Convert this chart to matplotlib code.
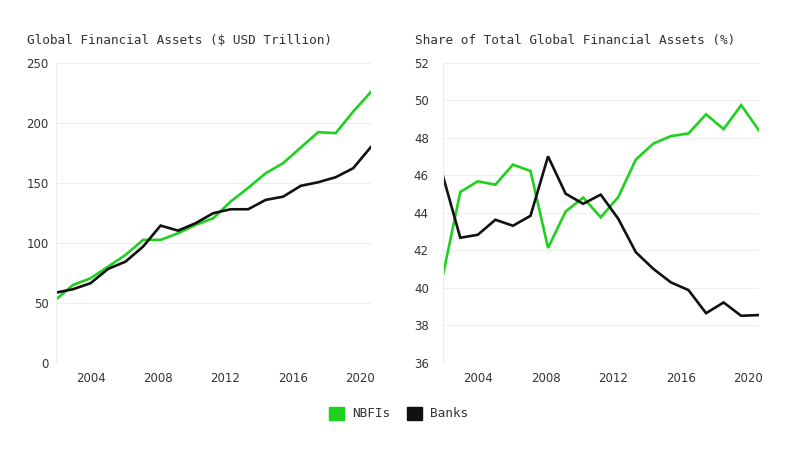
import matplotlib.pyplot as plt
import numpy as np

# data
years = np.arange(2002, 2021)
nbfi_assets = [52.3, 64.8, 70.3, 80.0, 89.8, 102.3, 102.3, 107.8, 114.8, 120.3,
               134.2, 145.6, 157.8, 166.2, 179.2, 192.0, 191.2, 209.2, 225.3]
bank_assets = [58.3, 61.2, 66.2, 78.1, 84.2, 96.7, 114.2, 110.0, 116.2, 124.5,
               127.8, 127.8, 135.6, 138.3, 147.3, 150.3, 154.5, 162.0, 179.5]
nbfi_share = [40.6, 45.1, 45.67, 45.49, 46.56, 46.22, 42.12, 44.06, 44.8, 43.75,
              44.83, 46.83, 47.68, 48.08, 48.22, 49.24, 48.45, 49.73, 48.4]
bank_share = [46.0, 42.66, 42.82, 43.62, 43.3, 43.83, 47.0, 45.01, 44.47, 44.96,
              43.67, 41.89, 41.0, 40.28, 39.87, 38.64, 39.21, 38.5, 38.54]
tick_years = [2004, 2008, 2012, 2016, 2020]

GREEN = '#1fd11f'
BLACK = '#111111'
MONO = 'DejaVu Sans Mono'
SANS = 'DejaVu Sans'


def style_axis(ax, ylim, yticks, ypad):
    ax.set_xlim(years[0], years[-1])
    ax.set_ylim(*ylim)
    ax.set_yticks(yticks)
    # the original time scale puts the labels slightly off the data years
    ax.set_xticks([2002.08 + (t - 2002) * 0.962 for t in tick_years])
    ax.set_xticklabels([str(t) for t in tick_years])
    ax.grid(axis='y', color='#eeeeee', linewidth=0.8)
    ax.set_axisbelow(True)
    for side in ['top', 'right', 'bottom']:
        ax.spines[side].set_visible(False)
    ax.spines['left'].set_color('#eeeeee')
    ax.tick_params(axis='both', length=0, labelsize=8.5, labelcolor='#333333')
    ax.tick_params(axis='x', pad=7)
    ax.tick_params(axis='y', pad=ypad)
    for lab in ax.get_xticklabels() + ax.get_yticklabels():
        lab.set_family(SANS)


fig = plt.figure(figsize=(8, 4.5), dpi=100)
ax1 = fig.add_axes([0.0694, 0.194, 0.394, 0.667])
ax2 = fig.add_axes([0.5534, 0.194, 0.395, 0.667])

ax1.plot(years, nbfi_assets, color=GREEN, linewidth=1.9, solid_joinstyle='miter')
ax1.plot(years, bank_assets, color=BLACK, linewidth=1.9, solid_joinstyle='miter')
style_axis(ax1, (0, 250), np.arange(0, 251, 50), 5)

ax2.plot(years, nbfi_share, color=GREEN, linewidth=1.9, solid_joinstyle='miter')
ax2.plot(years, bank_share, color=BLACK, linewidth=1.9, solid_joinstyle='miter')
style_axis(ax2, (36, 52), np.arange(36, 53, 2), 10)

fig.text(0.034, 0.911, 'Global Financial Assets ($ USD Trillion)', family=MONO,
         fontsize=9.2, color='#333333', va='center')
fig.text(0.519, 0.911, 'Share of Total Global Financial Assets (%)', family=MONO,
         fontsize=9.2, color='#333333', va='center')

handles = [plt.Rectangle((0, 0), 1, 1, color=GREEN), plt.Rectangle((0, 0), 1, 1, color=BLACK)]
fig.legend(handles, ['NBFIs', 'Banks'], loc='center', bbox_to_anchor=(0.498, 0.081),
           ncol=2, frameon=False, prop={'family': MONO, 'size': 9.2},
           handlelength=1.2, handleheight=1.2, handletextpad=0.6, columnspacing=1.3,
           labelcolor='#333333')

fig.savefig('out.png', dpi=100)
